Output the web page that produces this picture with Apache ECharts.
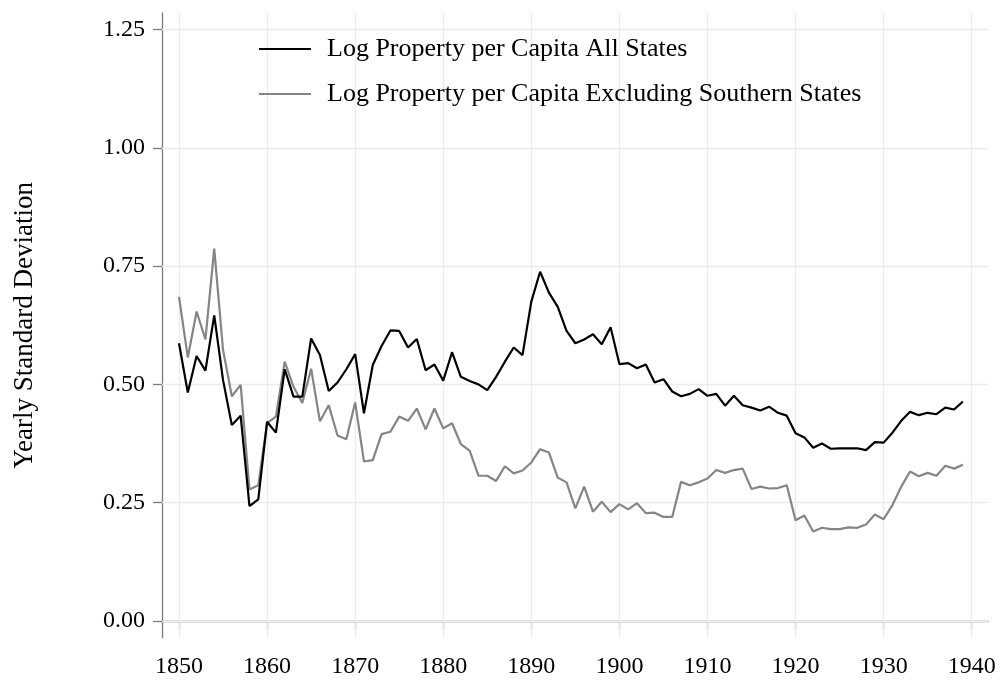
<!DOCTYPE html>
<html>
<head>
<meta charset="utf-8">
<script src="https://cdn.jsdelivr.net/npm/echarts@6/dist/echarts.min.js"></script>
<style>
html,body{margin:0;padding:0;background:#fff;}
#chart{width:1000px;height:681px;}
</style>
</head>
<body>
<div id="chart"></div>
<script>
const years = [];
for (let y = 1850; y <= 1939; y++) years.push(y);

const allStates = [
0.587,0.483,0.560,0.529,0.646,0.509,0.414,0.434,0.243,0.257,
0.421,0.398,0.532,0.474,0.474,0.597,0.562,0.486,0.504,0.532,
0.564,0.439,0.541,0.581,0.614,0.613,0.578,0.596,0.530,0.542,
0.508,0.568,0.516,0.507,0.500,0.488,0.516,0.548,0.578,0.562,
0.675,0.738,0.694,0.664,0.613,0.587,0.595,0.606,0.585,0.621,
0.543,0.545,0.534,0.542,0.504,0.511,0.485,0.475,0.480,0.490,
0.476,0.480,0.455,0.476,0.456,0.451,0.445,0.453,0.440,0.434,
0.397,0.388,0.366,0.375,0.364,0.365,0.365,0.365,0.361,0.378,
0.377,0.398,0.423,0.442,0.435,0.440,0.437,0.451,0.447,0.464
];

const exclSouth = [
0.685,0.557,0.654,0.595,0.787,0.573,0.475,0.499,0.278,0.287,
0.418,0.432,0.548,0.495,0.461,0.533,0.422,0.456,0.392,0.384,
0.462,0.337,0.340,0.395,0.400,0.432,0.423,0.449,0.405,0.449,
0.407,0.418,0.374,0.360,0.307,0.307,0.296,0.327,0.312,0.318,
0.335,0.363,0.356,0.303,0.293,0.238,0.284,0.231,0.252,0.230,
0.247,0.236,0.249,0.228,0.229,0.220,0.220,0.294,0.287,0.293,
0.301,0.319,0.313,0.319,0.322,0.279,0.284,0.280,0.281,0.287,
0.213,0.223,0.189,0.197,0.194,0.194,0.198,0.197,0.204,0.225,
0.215,0.245,0.284,0.316,0.306,0.313,0.307,0.328,0.322,0.330
];

const xTicks = [1850,1860,1870,1880,1890,1900,1910,1920,1930,1940];
const yTicks = [0, 0.25, 0.5, 0.75, 1.0, 1.25];

const seriesNames = ['Log Property per Capita All States', 'Log Property per Capita Excluding Southern States'];
const yTitle = 'Yearly Standard Deviation';

const FONT = "'Liberation Serif','Times New Roman',serif";
const AXIS_COLOR = '#7a7a7a';
const GRID_COLOR = '#ebebeb';

const chart = echarts.init(document.getElementById('chart'), null, {renderer: 'canvas'});

const gridMarks = xTicks.map(v => ({xAxis: v})).concat(yTicks.map(v => ({yAxis: v})));

chart.setOption({
  animation: false,
  backgroundColor: '#fff',
  grid: {left: 162, right: 12, top: 13, bottom: 43.3, containLabel: false},
  legend: {
    data: seriesNames,
    orient: 'vertical',
    left: 259,
    top: 36,
    padding: 0,
    z: 10,
    icon: 'rect',
    itemWidth: 52,
    itemHeight: 2.2,
    itemGap: 19,
    itemStyle: {borderWidth: 0},
    textStyle: {fontFamily: FONT, fontSize: 26, color: '#000', lineHeight: 26, padding: [0,0,0,11]},
    selectedMode: false
  },
  xAxis: {
    type: 'value',
    min: 1848.07,
    max: 1941.85,
    axisLine: {show: true, lineStyle: {color: AXIS_COLOR, width: 1.3}},
    axisTick: {show: true, customValues: xTicks, length: 9, lineStyle: {color: AXIS_COLOR, width: 1.3}},
    axisLabel: {customValues: xTicks, fontFamily: FONT, fontSize: 24, color: '#000', margin: 17,
      formatter: v => String(Math.round(v))},
    splitLine: {show: false}
  },
  yAxis: {
    type: 'value',
    min: -0.0353,
    max: 1.2849,
    name: yTitle,
    nameLocation: 'middle',
    nameGap: 124,
    nameTextStyle: {fontFamily: FONT, fontSize: 27, color: '#000'},
    axisLine: {show: true, lineStyle: {color: AXIS_COLOR, width: 1.3}},
    axisTick: {show: true, customValues: yTicks, length: 9, lineStyle: {color: AXIS_COLOR, width: 1.3}},
    axisLabel: {customValues: yTicks, fontFamily: FONT, fontSize: 24, color: '#000', margin: 17,
      formatter: v => v.toFixed(2)},
    splitLine: {show: false}
  },
  series: [
    {
      name: 'grid',
      type: 'line',
      data: [],
      silent: true,
      z: 1,
      markLine: {
        silent: true,
        z: 1,
        symbol: ['none','none'],
        label: {show: false},
        lineStyle: {color: GRID_COLOR, width: 1.3, type: 'solid'},
        emphasis: {disabled: true},
        data: gridMarks
      }
    },
    {
      name: seriesNames[0],
      type: 'line',
      data: years.map((y, i) => [y, allStates[i]]),
      symbol: 'none',
      z: 3,
      lineStyle: {color: '#000000', width: 2.2},
      itemStyle: {color: '#000000'}
    },
    {
      name: seriesNames[1],
      type: 'line',
      data: years.map((y, i) => [y, exclSouth[i]]),
      symbol: 'none',
      z: 2,
      lineStyle: {color: '#858585', width: 2.2},
      itemStyle: {color: '#858585'}
    }
  ]
});
</script>
</body>
</html>
